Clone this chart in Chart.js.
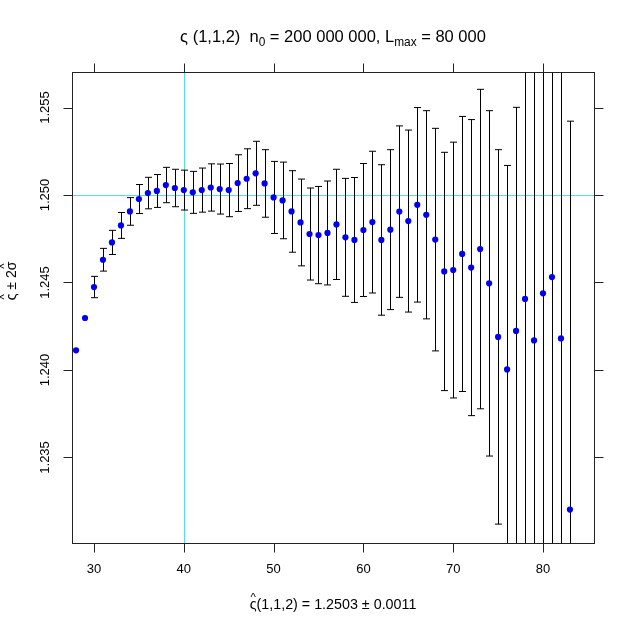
<!DOCTYPE html>
<html>
<head>
<meta charset="utf-8">
<script src="https://cdn.jsdelivr.net/npm/chart.js@4.4.0/dist/chart.umd.min.js"></script>
<style>
  html, body { margin: 0; padding: 0; background: #fff; }
</style>
</head>
<body>
<canvas id="chart" width="632" height="632"></canvas>
<script>
// Chart data
const nValues = [28, 29, 30, 31, 32, 33, 34, 35, 36, 37, 38, 39, 40, 41, 42, 43, 44, 45, 46, 47,
    48, 49, 50, 51, 52, 53, 54, 55, 56, 57, 58, 59, 60, 61, 62, 63, 64, 65, 66, 67,
    68, 69, 70, 71, 72, 73, 74, 75, 76, 77, 78, 79, 80, 81, 82, 83];
const xiValues = [1.24112, 1.24297, 1.24474, 1.24630, 1.24729, 1.24826, 1.24906, 1.24977, 1.25011, 1.25023,
    1.25057, 1.25040, 1.25028, 1.25015, 1.25028, 1.25043, 1.25034, 1.25028, 1.25068, 1.25093,
    1.25124, 1.25066, 1.24986, 1.24969, 1.24906, 1.24843, 1.24777, 1.24771, 1.24783, 1.24832,
    1.24758, 1.24743, 1.24800, 1.24845, 1.24743, 1.24802, 1.24905, 1.24851, 1.24944, 1.24887,
    1.24745, 1.24563, 1.24571, 1.24663, 1.24585, 1.24691, 1.24495, 1.24189, 1.24003, 1.24223,
    1.24406, 1.24169, 1.24438, 1.24531, 1.24180, 1.23202];
// 2 sigma half widths (no bar for the first two points)
const twoSigma = [null, null, 0.00061, 0.00065, 0.00069, 0.00074, 0.00079, 0.00083, 0.00090, 0.00094,
    0.00101, 0.00107, 0.00114, 0.00120, 0.00126, 0.00135, 0.00143, 0.00152, 0.00162, 0.00171,
    0.00183, 0.00193, 0.00206, 0.00219, 0.00233, 0.00248, 0.00263, 0.00278, 0.00297, 0.00315,
    0.00337, 0.00357, 0.00380, 0.00405, 0.00430, 0.00457, 0.00490, 0.00520, 0.00556, 0.00595,
    0.00636, 0.00681, 0.00731, 0.00786, 0.00846, 0.00913, 0.00987, 0.01070, 0.01166, 0.01278,
    0.01405, 0.01540, 0.01690, 0.01850, 0.02030, 0.02220];
const xTicks = [30, 40, 50, 60, 70, 80];
const yTicks = [1.235, 1.240, 1.245, 1.250, 1.255];
const yTickLabels = ['1.235', '1.240', '1.245', '1.250', '1.255'];
const refX = 40;
const refY = 1.250;
const estimateText = '1.2503';
const errorText = '0.0011';

const FONT = '"Liberation Sans", Arial, Helvetica, sans-serif';

// draw a run of text pieces: {t, sub, hat}
function drawPieces(ctx, pieces, x, y, size) {
    let total = 0;
    const widths = pieces.map(p => {
        ctx.font = (p.sub ? size * 0.72 : size) + 'px ' + FONT;
        const w = ctx.measureText(p.t).width;
        total += w;
        return w;
    });
    let cx = x - total / 2;
    ctx.textAlign = 'left';
    ctx.textBaseline = 'alphabetic';
    pieces.forEach((p, i) => {
        ctx.font = (p.sub ? size * 0.72 : size) + 'px ' + FONT;
        ctx.fillText(p.t, cx, p.sub ? y + size * 0.25 : y);
        if (p.hat) {
            ctx.font = (size * 0.8) + 'px ' + FONT;
            ctx.textAlign = 'center';
            ctx.fillText('^', cx + widths[i] / 2, y - size * 0.55);
            ctx.textAlign = 'left';
        }
        cx += widths[i];
    });
}

const latticePlugin = {
    id: 'lattice',
    beforeDatasetsDraw(chart) {
        const ctx = chart.ctx;
        const area = chart.chartArea;
        const xs = chart.scales.x, ys = chart.scales.y;
        ctx.save();
        ctx.beginPath();
        ctx.rect(area.left, area.top, area.right - area.left, area.bottom - area.top);
        ctx.clip();

        // reference lines
        ctx.strokeStyle = '#55dcee';
        ctx.lineWidth = 1;
        ctx.beginPath();
        const rx = Math.round(xs.getPixelForValue(refX)) + 0.5;
        const ry = Math.round(ys.getPixelForValue(refY)) + 0.5;
        ctx.moveTo(rx, area.top);
        ctx.lineTo(rx, area.bottom);
        ctx.moveTo(area.left, ry);
        ctx.lineTo(area.right, ry);
        ctx.stroke();

        // error bars
        ctx.strokeStyle = '#000';
        ctx.lineWidth = 1;
        nValues.forEach((n, i) => {
            const e = twoSigma[i];
            if (e === null) return;
            const px = Math.round(xs.getPixelForValue(n)) + 0.5;
            const top = ys.getPixelForValue(xiValues[i] + e);
            const bot = ys.getPixelForValue(xiValues[i] - e);
            ctx.beginPath();
            ctx.moveTo(px, top);
            ctx.lineTo(px, bot);
            ctx.moveTo(px - 3.5, top);
            ctx.lineTo(px + 3.5, top);
            ctx.moveTo(px - 3.5, bot);
            ctx.lineTo(px + 3.5, bot);
            ctx.stroke();
        });
        ctx.restore();
    },
    afterDraw(chart) {
        const ctx = chart.ctx;
        const area = chart.chartArea;
        const xs = chart.scales.x, ys = chart.scales.y;
        const tick = 9;
        ctx.save();
        ctx.strokeStyle = '#222';
        ctx.lineWidth = 1;
        const L = Math.round(area.left) + 0.5, R = Math.round(area.right) + 0.5;
        const T = Math.round(area.top) + 0.5, B = Math.round(area.bottom) + 0.5;
        ctx.strokeRect(L, T, R - L, B - T);

        ctx.beginPath();
        xTicks.forEach(v => {
            const px = Math.round(xs.getPixelForValue(v)) + 0.5;
            ctx.moveTo(px, B); ctx.lineTo(px, B + tick);
            ctx.moveTo(px, T); ctx.lineTo(px, T - tick);
        });
        yTicks.forEach(v => {
            const py = Math.round(ys.getPixelForValue(v)) + 0.5;
            ctx.moveTo(L, py); ctx.lineTo(L - tick, py);
            ctx.moveTo(R, py); ctx.lineTo(R + tick, py);
        });
        ctx.stroke();

        ctx.fillStyle = '#000';
        ctx.font = '13px ' + FONT;
        ctx.textAlign = 'center';
        ctx.textBaseline = 'middle';
        xTicks.forEach(v => {
            ctx.fillText(String(v), xs.getPixelForValue(v), B + 26);
        });
        yTicks.forEach((v, i) => {
            ctx.save();
            ctx.translate(L - 27, ys.getPixelForValue(v));
            ctx.rotate(-Math.PI / 2);
            ctx.fillText(yTickLabels[i], 0, 0);
            ctx.restore();
        });

        const midX = (area.left + area.right) / 2;
        // title
        drawPieces(ctx, [
            { t: 'ς (1,1,2)  n' }, { t: '0', sub: true },
            { t: ' = 200 000 000, L' }, { t: 'max', sub: true }, { t: ' = 80 000' }
        ], midX, 42, 16.5);

        // x axis label
        drawPieces(ctx, [
            { t: 'ς', hat: true }, { t: '(1,1,2) = ' + estimateText + ' ± ' + errorText }
        ], midX, 609, 14.3);

        // y axis label
        ctx.save();
        ctx.translate(16, 281);
        ctx.rotate(-Math.PI / 2);
        drawPieces(ctx, [
            { t: 'ς', hat: true }, { t: ' ± 2' }, { t: 'σ', hat: true }
        ], 0, 0, 14);
        ctx.restore();
        ctx.restore();
    }
};

new Chart(document.getElementById('chart'), {
    type: 'scatter',
    data: {
        datasets: [{
            data: nValues.map((n, i) => ({ x: n, y: xiValues[i] })),
            backgroundColor: '#0000ee',
            borderColor: '#0000ee',
            borderWidth: 0,
            pointRadius: 3.1
        }]
    },
    options: {
        responsive: false,
        animation: false,
        layout: { padding: { left: 72, top: 72, right: 38, bottom: 89 } },
        scales: {
            x: { type: 'linear', min: 27.55, max: 85.68, display: false },
            y: { type: 'linear', min: 1.23011, max: 1.25703, display: false }
        },
        plugins: {
            legend: { display: false },
            tooltip: { enabled: false }
        }
    },
    plugins: [latticePlugin]
});
</script>
</body>
</html>
